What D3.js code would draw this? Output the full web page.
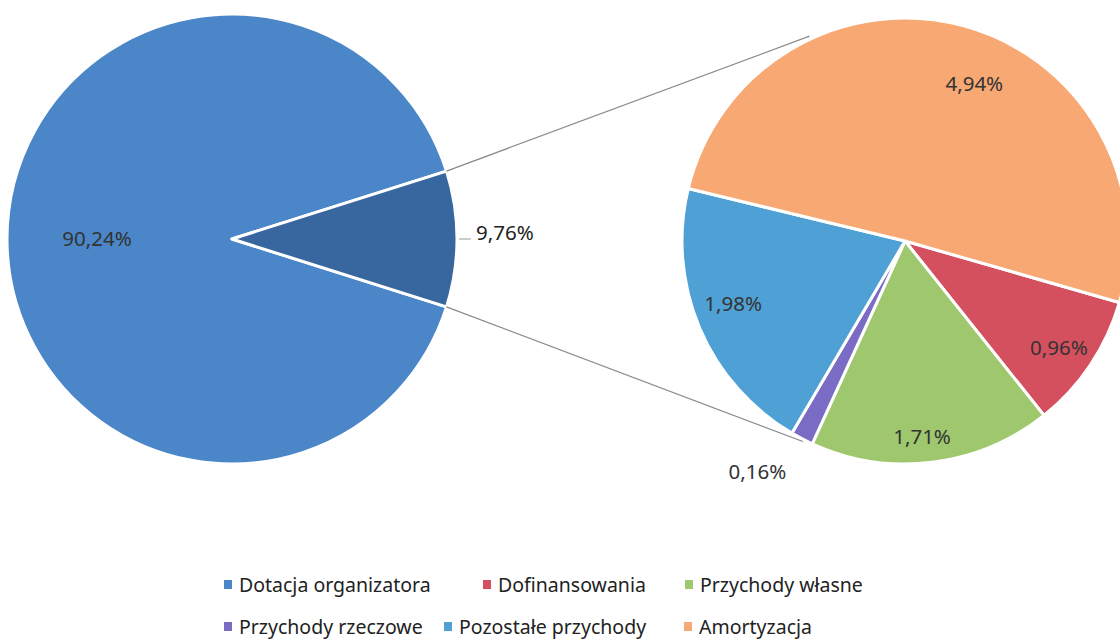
<!DOCTYPE html>
<html>
<head>
<meta charset="utf-8">
<script src="https://cdn.jsdelivr.net/npm/d3@7"></script>
<style>
    body { margin: 0; background: #fff; }
    text { font-family: "Noto Sans", "Open Sans", sans-serif; }
</style>
</head>
<body>
<svg class="pie-of-pie"></svg>
<script>
// data
var mainLabels = ['Dotacja organizatora', 'Pozostałe'];
var mainValues = [90.24, 9.76];

var subLabels = ['Dofinansowania', 'Przychody własne', 'Przychody rzeczowe', 'Pozostałe przychody', 'Amortyzacja'];
var subValues = [0.96, 1.71, 0.16, 1.98, 4.94];

var legendLabels = ['Dotacja organizatora', 'Dofinansowania', 'Przychody własne',
    'Przychody rzeczowe', 'Pozostałe przychody', 'Amortyzacja'];

var colors = {
    'Dotacja organizatora': '#4a86c8',
    'Pozostałe': '#38679f',
    'Dofinansowania': '#d5505f',
    'Przychody własne': '#9fc86e',
    'Przychody rzeczowe': '#7a6cc4',
    'Pozostałe przychody': '#4fa1d5',
    'Amortyzacja': '#f8a873'
};

function fmt(v) {
    return v.toFixed(2).replace('.', ',') + '%';
}

var svgWidth = 1120,
    svgHeight = 642;

var svg = d3.select('.pie-of-pie')
    .attr('width', svgWidth)
    .attr('height', svgHeight);

var deg = Math.PI / 180;

// left (main) pie
var leftCx = 232, leftCy = 239, leftR = 225;
var otherAngle = mainValues[1] / d3.sum(mainValues) * 2 * Math.PI;
var leftStart = Math.PI / 2 + otherAngle / 2;

var leftPie = d3.pie().sort(null).value(function (d) { return d; })
    .startAngle(leftStart).endAngle(leftStart + 2 * Math.PI);
var leftArc = d3.arc().innerRadius(0).outerRadius(leftR);

var gLeft = svg.append('g')
    .attr('transform', `translate(${leftCx},${leftCy})`);

gLeft.selectAll('path')
    .data(leftPie(mainValues))
    .enter()
    .append('path')
    .attr('d', leftArc)
    .attr('fill', function (d, i) { return colors[mainLabels[i]]; })
    .attr('stroke', '#fff')
    .attr('stroke-width', 3)
    .attr('stroke-linejoin', 'round');

// right (secondary) pie
var rightCx = 905, rightCy = 241, rightR = 223;
var rightStart = 106 * deg;

var rightPie = d3.pie().sort(null).value(function (d) { return d; })
    .startAngle(rightStart).endAngle(rightStart + 2 * Math.PI);
var rightArc = d3.arc().innerRadius(0).outerRadius(rightR);

var gRight = svg.append('g')
    .attr('transform', `translate(${rightCx},${rightCy})`);

var rightSlices = rightPie(subValues);

gRight.selectAll('path')
    .data(rightSlices)
    .enter()
    .append('path')
    .attr('d', rightArc)
    .attr('fill', function (d, i) { return colors[subLabels[i]]; })
    .attr('stroke', '#fff')
    .attr('stroke-width', 3)
    .attr('stroke-linejoin', 'round');

// connector lines
function polar(cx, cy, r, a) {
    return [cx + r * Math.sin(a), cy - r * Math.cos(a)];
}
var wedgeTop = polar(leftCx, leftCy, leftR, Math.PI / 2 - otherAngle / 2);
var wedgeBot = polar(leftCx, leftCy, leftR, Math.PI / 2 + otherAngle / 2);
var pieTop = polar(rightCx, rightCy, rightR + 3, -25 * deg);
var pieBot = polar(rightCx, rightCy, rightR + 2, 207 * deg);

[[wedgeTop, pieTop], [wedgeBot, pieBot]].forEach(function (p) {
    svg.append('line')
        .attr('x1', p[0][0]).attr('y1', p[0][1])
        .attr('x2', p[1][0]).attr('y2', p[1][1])
        .attr('stroke', '#8a8a8a')
        .attr('stroke-width', 1.2);
});

// labels
var leftSlices = leftPie(mainValues);
var mainLabelPos = d3.arc().innerRadius(leftR * 0.6).outerRadius(leftR * 0.6);
svg.append('text')
    .attr('transform', function () {
        var c = mainLabelPos.centroid(leftSlices[0]);
        return `translate(${leftCx + c[0]},${leftCy + c[1]})`;
    })
    .attr('text-anchor', 'middle')
    .attr('dy', '0.35em')
    .attr('font-size', 20.5)
    .attr('fill', '#333')
    .text(fmt(mainValues[0]));

// other slice label (outside, with short leader)
var otherMid = polar(leftCx, leftCy, leftR, Math.PI / 2);
svg.append('line')
    .attr('x1', otherMid[0] + 2).attr('y1', otherMid[1])
    .attr('x2', otherMid[0] + 14).attr('y2', otherMid[1])
    .attr('stroke', '#999')
    .attr('stroke-width', 1);
svg.append('text')
    .attr('x', otherMid[0] + 19)
    .attr('y', otherMid[1] - 6)
    .attr('dy', '0.35em')
    .attr('font-size', 20.5)
    .attr('fill', '#222')
    .text(fmt(mainValues[1]));

// secondary labels: radius fraction and angle shift per slice (layout only)
var subLabelLayout = {
    'Dofinansowania': { k: 0.84, shift: 1 },
    'Przychody własne': { k: 0.88, shift: 2 },
    'Przychody rzeczowe': { k: 1.23, shift: 5 },
    'Pozostałe przychody': { k: 0.82, shift: 3 },
    'Amortyzacja': { k: 0.77, shift: 9 }
};

gRight.selectAll('text')
    .data(rightSlices)
    .enter()
    .append('text')
    .attr('transform', function (d, i) {
        var lay = subLabelLayout[subLabels[i]];
        var mid = (d.startAngle + d.endAngle) / 2 + lay.shift * deg;
        var p = polar(0, 0, rightR * lay.k, mid);
        return `translate(${p[0]},${p[1]})`;
    })
    .attr('text-anchor', 'middle')
    .attr('dy', '0.35em')
    .attr('font-size', 20.5)
    .attr('fill', '#333')
    .text(function (d) { return fmt(d.data); });

// legend
var legendRows = [[228, 487, 689], [228, 448, 688]];
var legendY = [585, 627];

var legend = svg.append('g');
legendLabels.forEach(function (name, i) {
    var row = Math.floor(i / 3), col = i % 3;
    var x = legendRows[row][col], y = legendY[row];
    legend.append('rect')
        .attr('x', x - 4).attr('y', y - 5)
        .attr('width', 8).attr('height', 9)
        .attr('fill', colors[name]);
    legend.append('text')
        .attr('x', x + 11)
        .attr('y', y)
        .attr('dy', '0.35em')
        .attr('font-size', 19.5)
        .attr('fill', '#222')
        .text(name);
});
</script>
</body>
</html>
